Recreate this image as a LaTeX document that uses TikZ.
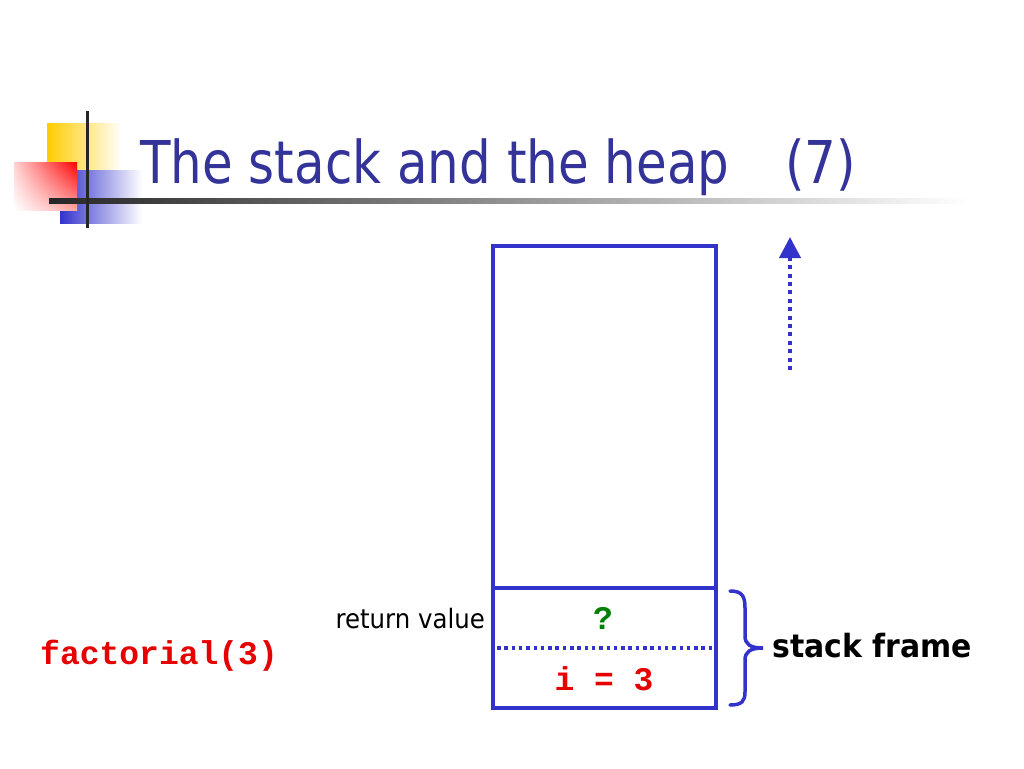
\documentclass[tikz,border=0pt]{standalone}
\usepackage{fontspec}
\usepackage{graphicx}
\setmainfont{DejaVu Sans}
\setmonofont{Liberation Mono}
\usetikzlibrary{arrows.meta,shadings}
\definecolor{titleblue}{RGB}{51,51,153}
\definecolor{boxblue}{RGB}{51,51,204}
\definecolor{logoyellow}{RGB}{255,204,0}
\definecolor{logored}{RGB}{255,0,0}
\definecolor{codered}{RGB}{230,0,0}
\definecolor{codegreen}{RGB}{0,128,0}
\tikzset{
  cell/.style={draw=boxblue, line width=3.5pt, inner sep=0pt, outer sep=0pt, minimum width=223pt},
  codetext/.style={font=\fontsize{33}{35}\selectfont\ttfamily\bfseries, inner sep=0pt},
  plain/.style={inner sep=0pt},
  dotline/.style={draw=boxblue, line width=3.5pt, dash pattern=on 3.5pt off 3.8pt},
  arrowline/.style={draw=boxblue, line width=4pt, dash pattern=on 4pt off 4.4pt},
}
\begin{document}
\begin{tikzpicture}[x=1pt,y=-1pt]
\useasboundingbox (0,0) rectangle (1024,768);
\fill[white] (0,0) rectangle (1024,768);
% logo
\shade[left color=logoyellow, middle color=logoyellow, right color=white] (47,123) rectangle (122,170);
\shade[left color=boxblue, middle color=boxblue, right color=white] (60,170) rectangle (142,223);
\shade[upper right=logored, upper left=logored!18, lower right=logored!35, lower left=white] (14,162) rectangle (77,210);
\shade[left color=black!85, right color=white] (49,198.5) rectangle (968,203.5);
\draw[black!85, line width=3pt] (87,111) -- (87,228);
% title
\node[plain, anchor=base west, text=titleblue] (title) at (140,183)
  {\scalebox{0.846}[1]{\fontsize{59}{61}\selectfont The stack and the heap\hspace{1.12em}(7)}};
% stack
\node[cell, minimum height=342pt] (upper) at (604.5,417) {};
\node[cell, minimum height=120pt] (frame) at (604.5,648) {};
\draw[dotline] ([xshift=4pt]frame.west) -- ([xshift=-3pt]frame.east);
\node[codetext, text=codegreen] (ret) at (603,618) {?};
\node[codetext, text=codered] (ival) at (604,679) {i = 3};
\node[plain, anchor=base east] (retlabel) at (485,628)
  {\scalebox{0.915}[1]{\fontsize{26.7}{28}\selectfont return value}};
\node[codetext, text=codered, anchor=base west] (call) at (40,664) {factorial(3)};
% brace
\coordinate (btop) at (730,591);
\coordinate (btip) at (763,648);
\coordinate (bbot) at (730,705);
\draw[boxblue, line width=3.5pt, line cap=round]
  (btop) .. controls (742,591) and (745,596) .. (745,608) -- (745,636)
  .. controls (745,644) and (750,648) .. (btip)
  .. controls (750,648) and (745,652) .. (745,660) -- (745,692)
  .. controls (745,701) and (742,705) .. (bbot);
\node[plain, anchor=base west] (sframe) at (772,657)
  {\scalebox{0.935}[1]{\fontsize{32}{34}\selectfont\bfseries stack frame}};
% growth arrow
\coordinate (abot) at (790,370);
\coordinate (atop) at (790,237);
\draw[arrowline, -{Triangle[length=21pt,width=21pt]}] (abot) -- (atop);
\end{tikzpicture}
\end{document}
